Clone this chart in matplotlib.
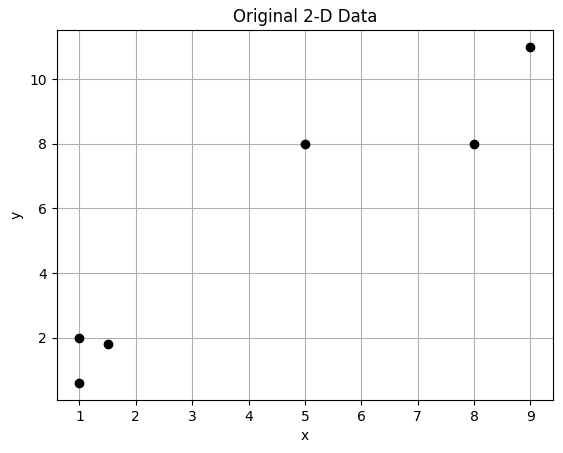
import matplotlib
matplotlib.use("Agg")
import matplotlib.pyplot as plt

# data points
x_vals = [1, 1.5, 5, 8, 1, 9]
y_vals = [2, 1.8, 8, 8, 0.6, 11]

fig = plt.figure(figsize=(5.63, 4.53), dpi=100)
ax = fig.add_subplot(111)
fig.subplots_adjust(left=0.101, right=0.982, top=0.934, bottom=0.117)

ax.plot(x_vals, y_vals, 'ko')
ax.set_title("Original 2-D Data")
ax.set_xlabel("x")
ax.set_ylabel("y")
ax.grid(True)

fig.savefig("out.png", dpi=100)
